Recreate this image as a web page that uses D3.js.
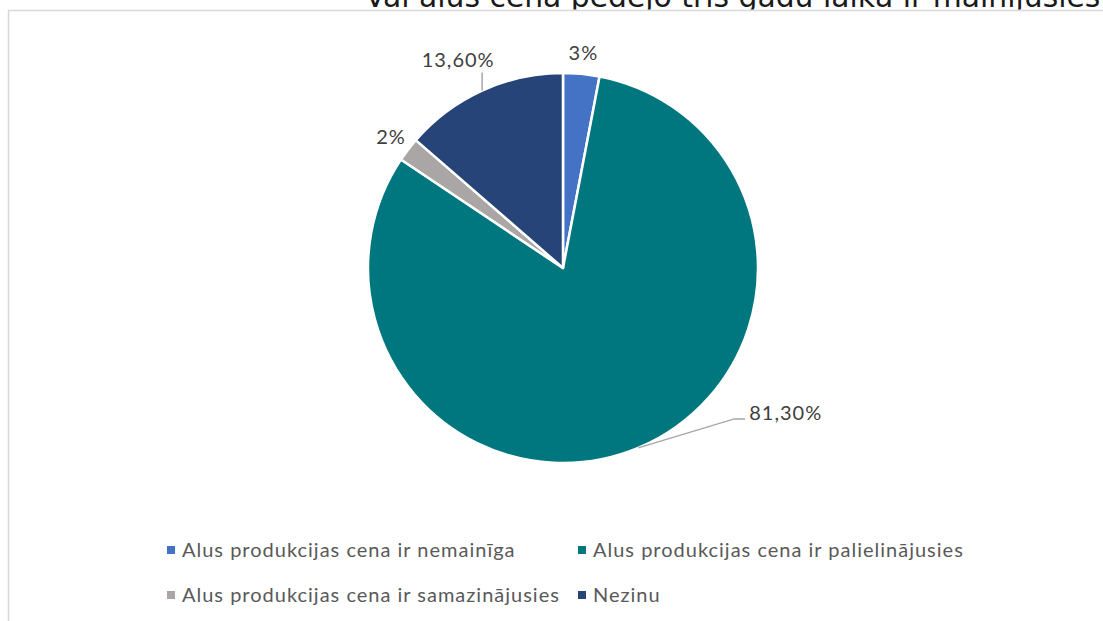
<!DOCTYPE html>
<html>
<head>
<meta charset="utf-8">
<script src="https://cdn.jsdelivr.net/npm/d3@7"></script>
<style>
  body { margin: 0; background: #fff; }
  svg { display: block; }
</style>
</head>
<body>
<svg></svg>
<script>
var width = 1103;
var height = 621;

var title = "Vai alus cena pēdējo trīs gadu laikā ir mainījusies";
var categories = [
    "Alus produkcijas cena ir nemainīga",
    "Alus produkcijas cena ir palielinājusies",
    "Alus produkcijas cena ir samazinājusies",
    "Nezinu"
];
var values = [3, 81.3, 2, 13.6];
var labels = ["3%", "81,30%", "2%", "13,60%"];
var colors = ["#4472c4", "#00777f", "#aaa6a5", "#264478"];

var cx = 563, cy = 268, radius = 195;

var svg = d3.select("svg")
    .attr("width", width)
    .attr("height", height);

// chart frame (only top and left edges are inside the window)
svg.append("line")
    .attr("x1", 8).attr("y1", 10.5).attr("x2", width).attr("y2", 10.5)
    .attr("stroke", "#d9d9d9").attr("stroke-width", 1.5);
svg.append("line")
    .attr("x1", 8.5).attr("y1", 10).attr("x2", 8.5).attr("y2", height)
    .attr("stroke", "#d9d9d9").attr("stroke-width", 1.5);

// title, cut off by the top of the window like in the original
svg.append("clipPath").attr("id", "titleClip")
    .append("rect").attr("x", 0).attr("y", 0).attr("width", width).attr("height", 9.5);
svg.append("text")
    .attr("clip-path", "url(#titleClip)")
    .attr("x", 365)
    .attr("y", 7)
    .attr("font-family", "DejaVu Sans")
    .attr("font-size", 29.8)
    .attr("fill", "#1a1a1a")
    .text(title);

var pie = d3.pie().sort(null).value(function (d) { return d; });
var arcs = pie(values);

var arc = d3.arc().innerRadius(0).outerRadius(radius);
var labelArc = d3.arc().innerRadius(radius * 1.11).outerRadius(radius * 1.11);

var g = svg.append("g").attr("transform", "translate(" + cx + "," + cy + ")");

g.selectAll("path")
    .data(arcs)
    .enter()
    .append("path")
    .attr("d", arc)
    .attr("fill", function (d, i) { return colors[i]; })
    .attr("stroke", "#fff")
    .attr("stroke-width", 2.5)
    .attr("stroke-linejoin", "round");

function edgePoint(d) {
    var a = (d.startAngle + d.endAngle) / 2;
    return [Math.sin(a) * radius, -Math.cos(a) * radius];
}

var labelFont = "Lato";
var labelSize = 20;
var labelColor = "#404040";

function addLabel(x, y, anchor, txt) {
    g.append("text")
        .attr("x", x).attr("y", y)
        .attr("dy", "0.35em")
        .attr("text-anchor", anchor)
        .attr("font-family", labelFont).attr("font-size", labelSize)
        .attr("letter-spacing", 1)
        .attr("fill", labelColor)
        .text(txt);
}

arcs.forEach(function (d, i) {
    var e = edgePoint(d);
    if (i === 1) {
        // 81,30% - moved out to the right with a leader
        var p1 = [e[0] + 96, e[1] - 29];
        var p2 = [p1[0] + 11, p1[1]];
        g.append("polyline")
            .attr("points", [e, p1, p2].map(function (p) { return p.join(","); }).join(" "))
            .attr("fill", "none").attr("stroke", "#a6a6a6").attr("stroke-width", 1.5);
        addLabel(p2[0] + 4, p2[1] - 6, "start", labels[i]);
    } else if (i === 3) {
        // 13,60% - short vertical leader
        var q = [e[0], e[1] - 18];
        g.append("line")
            .attr("x1", e[0]).attr("y1", e[1]).attr("x2", q[0]).attr("y2", q[1])
            .attr("stroke", "#a6a6a6").attr("stroke-width", 1.5);
        addLabel(q[0] - 24, q[1] - 13, "middle", labels[i]);
    } else {
        var c = labelArc.centroid(d);
        addLabel(c[0], c[1], "middle", labels[i]);
    }
});

// legend: two rows of two
var colX = [167, 578];
var rowY = [550, 595];

var legend = svg.selectAll(".legend")
    .data(categories)
    .enter()
    .append("g")
    .attr("class", "legend")
    .attr("transform", function (d, i) {
        return "translate(" + colX[i % 2] + "," + rowY[Math.floor(i / 2)] + ")";
    });

legend.append("rect")
    .attr("x", 0).attr("y", -4)
    .attr("width", 8).attr("height", 8)
    .attr("fill", function (d, i) { return colors[i]; });

legend.append("text")
    .attr("x", 15)
    .attr("dy", "0.35em")
    .attr("font-family", labelFont)
    .attr("font-size", 20)
    .attr("letter-spacing", 1)
    .attr("fill", "#595959")
    .text(function (d) { return d; });
</script>
</body>
</html>
